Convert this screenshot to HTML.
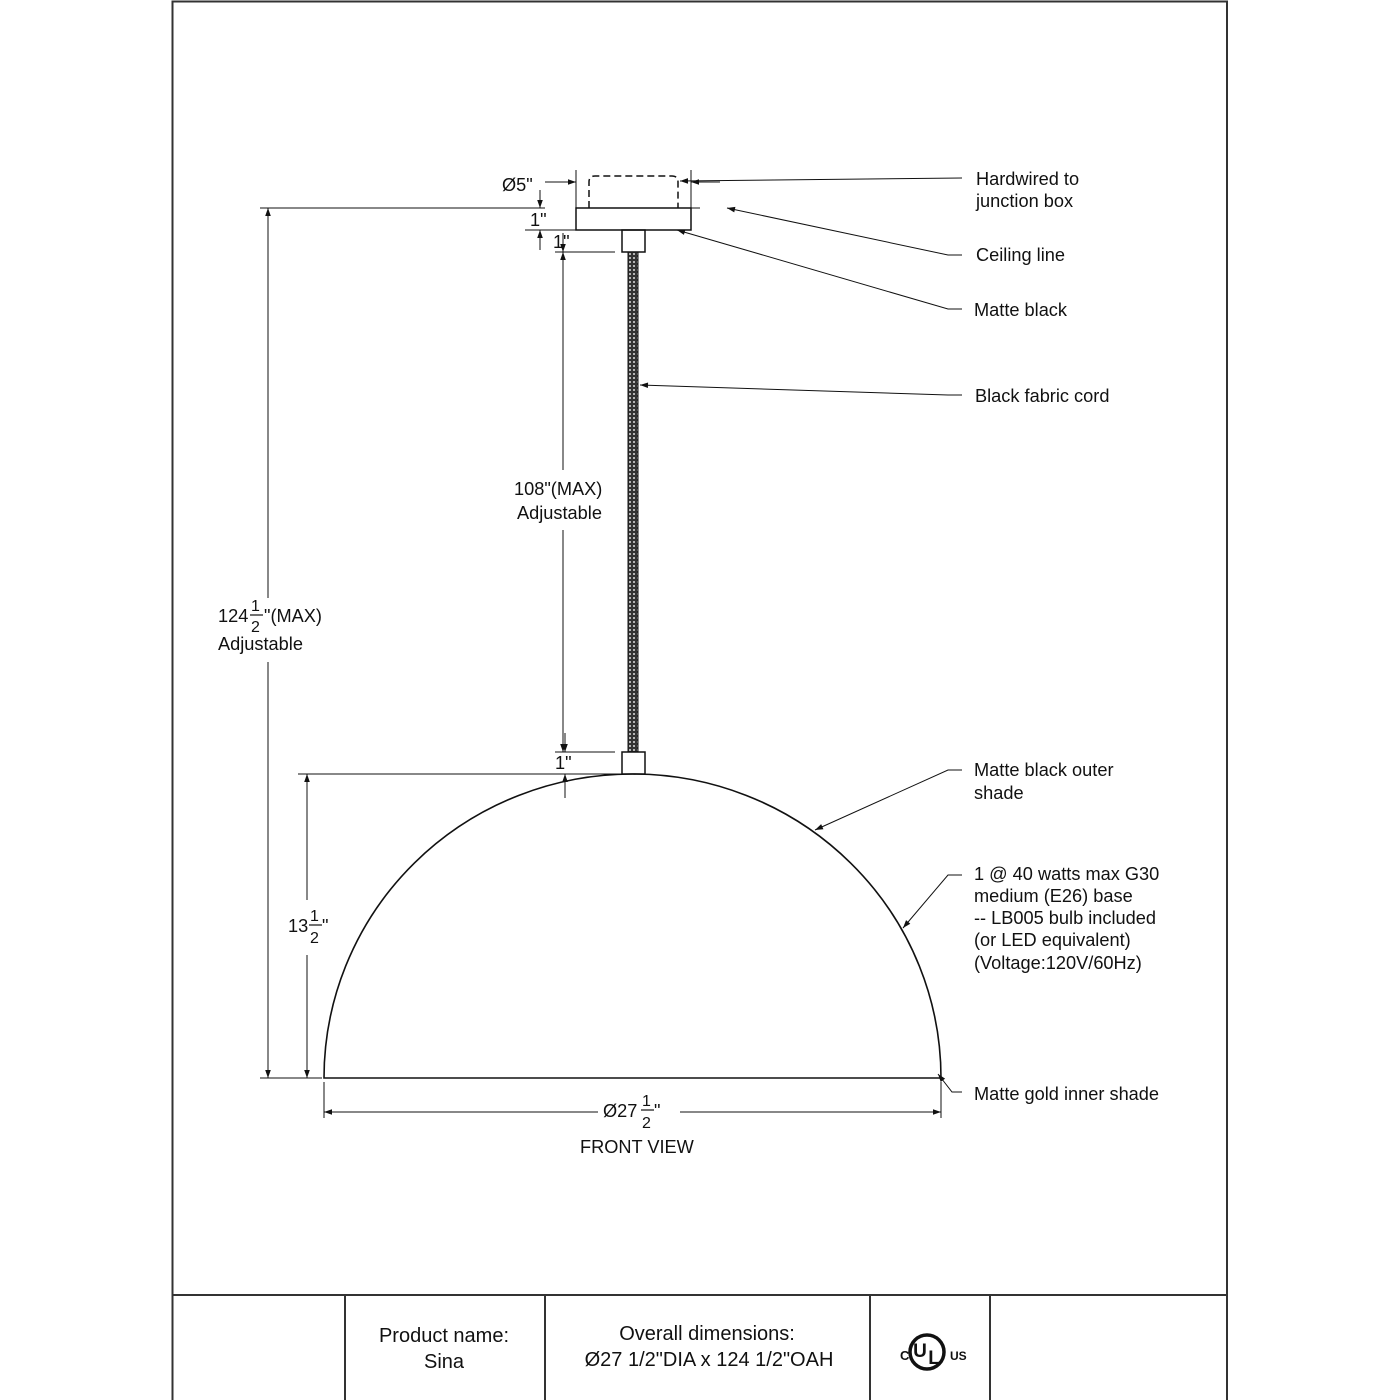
<!DOCTYPE html>
<html><head><meta charset="utf-8"><style>
html,body{margin:0;padding:0;background:#fff}
svg{display:block}
text{font-family:"Liberation Sans",Arial,sans-serif;fill:#111}
</style></head><body>
<svg width="1400" height="1400" viewBox="0 0 1400 1400" xmlns="http://www.w3.org/2000/svg">
<defs>
<marker id="a" viewBox="0 0 10 10" refX="10" refY="5" markerWidth="10" markerHeight="8" orient="auto-start-reverse" markerUnits="userSpaceOnUse"><path d="M0,1.5 L10,5 L0,8.5 z" fill="#111"/></marker>
<pattern id="cord" width="4" height="4" patternUnits="userSpaceOnUse"><rect width="4" height="4" fill="#333"/><circle cx="2" cy="2" r="1" fill="#ddd"/></pattern>
</defs>
<g stroke="#333" stroke-width="2" fill="none">
<path d="M172.5,1400 V1.5 H1227 V1400"/>
<line x1="172" y1="1295" x2="1227" y2="1295"/>
<line x1="345" y1="1295" x2="345" y2="1400"/>
<line x1="545" y1="1295" x2="545" y2="1400"/>
<line x1="870" y1="1295" x2="870" y2="1400"/>
<line x1="990" y1="1295" x2="990" y2="1400"/>
</g>
<g stroke="#111" fill="none" stroke-width="1.5">
<path d="M589,208 V182 Q589,176 595,176 H672 Q678,176 678,182 V208" stroke-dasharray="7,4"/>
<rect x="576" y="208" width="115" height="22"/>
<rect x="622" y="230" width="23" height="22"/>
<rect x="628" y="252" width="10" height="500" fill="url(#cord)" stroke="#111" stroke-width="1"/>
<rect x="622" y="752" width="23" height="22"/>
<path d="M324,1078 A308.5,304 0 0 1 941,1078 Z" stroke-width="1.6"/>
</g>
<g stroke="#111" fill="none" stroke-width="1">
<line x1="260" y1="208" x2="545" y2="208"/>
<line x1="691" y1="208" x2="700" y2="208"/>
<line x1="260" y1="1078" x2="322" y2="1078"/>
<line x1="298" y1="774" x2="622" y2="774"/>
<line x1="555" y1="252" x2="615" y2="252"/>
<line x1="555" y1="752" x2="615" y2="752"/>
<line x1="525" y1="230" x2="576" y2="230"/>
<line x1="576" y1="170" x2="576" y2="208"/>
<line x1="691" y1="170" x2="691" y2="208"/>
<line x1="324" y1="1082" x2="324" y2="1118"/>
<line x1="941" y1="1082" x2="941" y2="1118"/>
<line x1="268" y1="208" x2="268" y2="598" marker-start="url(#a)"/>
<line x1="268" y1="662" x2="268" y2="1078" marker-end="url(#a)"/>
<line x1="307" y1="774" x2="307" y2="900" marker-start="url(#a)"/>
<line x1="307" y1="955" x2="307" y2="1078" marker-end="url(#a)"/>
<line x1="563" y1="252" x2="563" y2="470" marker-start="url(#a)"/>
<line x1="563" y1="530" x2="563" y2="752" marker-end="url(#a)"/>
<line x1="324" y1="1112" x2="598" y2="1112" marker-start="url(#a)"/>
<line x1="680" y1="1112" x2="941" y2="1112" marker-end="url(#a)"/>
<line x1="545" y1="182" x2="576" y2="182" marker-end="url(#a)"/>
<line x1="720" y1="182" x2="691" y2="182" marker-end="url(#a)"/>
<line x1="540" y1="190" x2="540" y2="208" marker-end="url(#a)"/>
<line x1="540" y1="250" x2="540" y2="230" marker-end="url(#a)"/>
<line x1="563" y1="233" x2="563" y2="252" marker-end="url(#a)"/>
<line x1="565" y1="733" x2="565" y2="752" marker-end="url(#a)"/>
<line x1="565" y1="798" x2="565" y2="774" marker-end="url(#a)"/>
<polyline points="962,178 680,181" marker-end="url(#a)"/>
<polyline points="962,255 948,255 727,208" marker-end="url(#a)"/>
<polyline points="962,309 948,309 677,230" marker-end="url(#a)"/>
<polyline points="962,395 948,395 640,385" marker-end="url(#a)"/>
<polyline points="962,770 948,770 815,830" marker-end="url(#a)"/>
<polyline points="962,875 948,875 903,928" marker-end="url(#a)"/>
<polyline points="962,1092 952,1092 938,1074" marker-end="url(#a)"/>
</g>
<g font-size="18.2">
<text x="502" y="191">Ø5"</text>
<text x="530" y="226">1"</text>
<text x="553" y="248">1"</text>
<text x="555" y="769">1"</text>
<text x="514" y="495">108"(MAX)</text>
<text x="517" y="519">Adjustable</text>
<text x="218" y="622">124</text>
<text x="251" y="611" font-size="16">1</text>
<line x1="250" y1="615" x2="263" y2="615" stroke="#111" stroke-width="1.2"/>
<text x="251" y="632" font-size="16">2</text>
<text x="264" y="622">"(MAX)</text>
<text x="218" y="650">Adjustable</text>
<text x="288" y="932">13</text>
<text x="310" y="921" font-size="16">1</text>
<line x1="309" y1="925" x2="322" y2="925" stroke="#111" stroke-width="1.2"/>
<text x="310" y="943" font-size="16">2</text>
<text x="322" y="932">"</text>
<text x="603" y="1117">Ø27</text>
<text x="642" y="1106" font-size="16">1</text>
<line x1="641" y1="1110" x2="654" y2="1110" stroke="#111" stroke-width="1.2"/>
<text x="642" y="1128" font-size="16">2</text>
<text x="654" y="1117">"</text>
<text x="580" y="1153">FRONT VIEW</text>
<text x="976" y="185">Hardwired to</text>
<text x="976" y="207">junction box</text>
<text x="976" y="261">Ceiling line</text>
<text x="974" y="316">Matte black</text>
<text x="975" y="402">Black fabric cord</text>
<text x="974" y="776">Matte black outer</text>
<text x="974" y="799">shade</text>
<text x="974" y="880">1 @ 40 watts max G30</text>
<text x="974" y="902">medium (E26) base</text>
<text x="974" y="924">-- LB005 bulb included</text>
<text x="974" y="946">(or LED equivalent)</text>
<text x="974" y="969">(Voltage:120V/60Hz)</text>
<text x="974" y="1100">Matte gold inner shade</text>
<text x="444" y="1342" text-anchor="middle" font-size="20">Product name:</text>
<text x="444" y="1368" text-anchor="middle" font-size="20">Sina</text>
<text x="707" y="1340" text-anchor="middle" font-size="20">Overall dimensions:</text>
<text x="709" y="1366" text-anchor="middle" font-size="20">Ø27 1/2"DIA x 124 1/2"OAH</text>
</g>
<g>
<circle cx="927" cy="1352" r="17" fill="none" stroke="#111" stroke-width="3.5"/>
<text x="920" y="1357" font-size="19" font-weight="bold" text-anchor="middle">U</text>
<text x="934" y="1364" font-size="19" font-weight="bold" text-anchor="middle">L</text>
<text x="900" y="1360" font-size="13" font-weight="bold">C</text>
<text x="950" y="1360" font-size="12" font-weight="bold">US</text>
</g>
</svg>
</body></html>
